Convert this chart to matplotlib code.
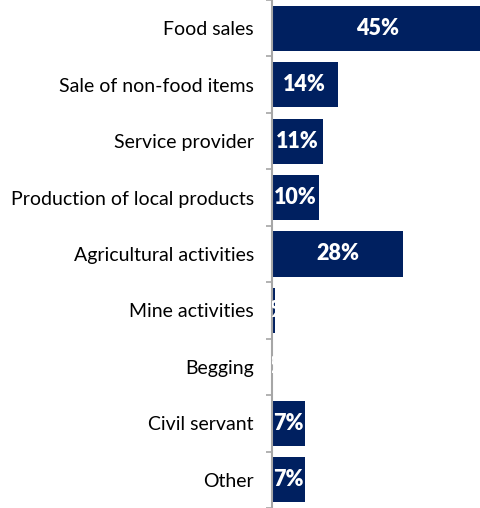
import numpy as np
import matplotlib.pyplot as plt

categories = [
    "Food sales",
    "Sale of non-food items",
    "Service provider",
    "Production of local products",
    "Agricultural activities",
    "Mine activities",
    "Begging",
    "Civil servant",
    "Other",
]
values = [45, 14, 11, 10, 28, 0.7, 0.2, 7, 7]
labels = ["45%", "14%", "11%", "10%", "28%", "1%", "0%", "7%", "7%"]

navy = "#002060"
axis_grey = "#a6a6a6"

plt.rcParams["font.family"] = ["Lato", "DejaVu Sans"]

fig = plt.figure(figsize=(4.8, 5.08), dpi=100)
ax = fig.add_axes([272 / 480, 0, 208 / 480, 1])

y = np.arange(len(categories))
ax.barh(y, values, height=0.8, color=navy)

for yi, v, lab in zip(y, values, labels):
    ax.text(v / 2, yi, lab, ha="center", va="center", color="white",
            fontsize=15.5, fontweight="heavy", clip_on=True)

ax.set_xlim(0, 208 / 4.68)
ax.set_ylim(len(categories) - 0.5, -0.5)

ax.set_yticks(y)
ax.set_yticklabels(categories, fontsize=14, color="black")
ax.tick_params(axis="y", which="major", length=0, pad=13)
ax.set_yticks(np.arange(len(categories) + 1) - 0.5, minor=True)
ax.tick_params(axis="y", which="minor", length=4.5, color=axis_grey, width=1.2)
ax.set_xticks([])

for side in ["top", "right", "bottom"]:
    ax.spines[side].set_visible(False)
ax.spines["left"].set_color(axis_grey)
ax.spines["left"].set_linewidth(1.5)

fig.savefig("out.png", dpi=100)
